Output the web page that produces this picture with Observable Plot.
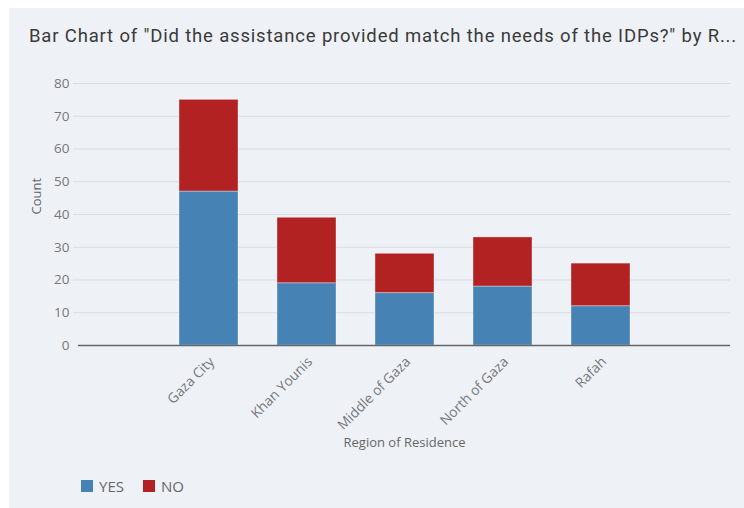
<!DOCTYPE html>
<html><head><meta charset="utf-8">
<script src="https://cdn.jsdelivr.net/npm/d3@7"></script>
<script src="https://cdn.jsdelivr.net/npm/@observablehq/plot@0.6"></script>
<style>
body{margin:0;background:#fff;font-family:"Open Sans",sans-serif;}
#card{position:absolute;left:9px;top:8px;width:735px;height:500px;background:#eef2f7;}
#title{position:absolute;left:29px;top:25px;font-size:18.5px;color:#3a3a3a;white-space:nowrap;font-family:Roboto,sans-serif;}
#chart{position:absolute;left:0;top:60px;}
#legend{position:absolute;left:81px;top:476px;font-size:15px;color:#666;display:flex;align-items:center;}
#legend .sw{display:inline-block;width:12px;height:12px;margin-right:6px;}
#legend .it{display:flex;align-items:center;margin-right:19px;}
</style>
</head><body>
<div id="card"></div>
<div id="title">Bar Chart of "Did the assistance provided match the needs of the IDPs?" by R...</div>
<div id="chart"></div>
<div id="legend"></div>
<script>
const regions = ["Gaza City", "Khan Younis", "Middle of Gaza", "North of Gaza", "Rafah"];
const yesCounts = [47, 19, 16, 18, 12];
const noCounts = [28, 20, 12, 15, 13];
const answers = ["YES", "NO"];
const colors = ["#4682b4", "#b22222"];
const yTicks = [0, 10, 20, 30, 40, 50, 60, 70, 80];

const rows = [];
regions.forEach((r, i) => {
  rows.push({region: r, answer: "YES", count: yesCounts[i]});
  rows.push({region: r, answer: "NO", count: noCounts[i]});
});

const chart = Plot.plot({
  width: 744, height: 400,
  marginTop: 23, marginBottom: 115, marginLeft: 78, marginRight: 14,
  style: {background: "transparent", fontFamily: "'Open Sans', sans-serif", fontSize: "13px", color: "#777"},
  x: {domain: regions, paddingInner: 0.4, paddingOuter: 1.0, label: null},
  y: {domain: [0, 80], ticks: yTicks, label: null},
  color: {domain: answers, range: colors},
  marks: [
    Plot.ruleY(yTicks.slice(1), {stroke: "#d9dde2", strokeWidth: 1, insetLeft: -5}),
    Plot.barY(rows, {x: "region", y: "count", fill: "answer", order: answers, stroke: "#ffffff", strokeOpacity: 0.35, strokeWidth: 1}),
    Plot.ruleY([0], {stroke: "#666", strokeWidth: 1.3}),
    Plot.axisY({ticks: yTicks, tickSize: 0, tickPadding: 9, fontSize: 13.5, fill: "#777", label: null}),
    Plot.axisX({tickSize: 0, tickRotate: -45, tickPadding: 12, dx: 3, dy: 2, fontSize: 13.8, fill: "#777", label: null}),
    Plot.text(["Count"], {frameAnchor: "left", dx: -42, rotate: -90, fontSize: 13, fill: "#666"}),
    Plot.text(["Region of Residence"], {frameAnchor: "bottom", dy: 101, fontSize: 13, fill: "#666"})
  ]
});
document.getElementById("chart").appendChild(chart);

// fit title to its measured width in the reference
const title = document.getElementById("title");
const targetW = 708;
const w0 = title.getBoundingClientRect().width;
const nChars = title.textContent.length;
title.style.letterSpacing = ((targetW - w0) / nChars) + "px";

const legend = document.getElementById("legend");
answers.forEach((a, i) => {
  const it = document.createElement("span");
  it.className = "it";
  const sw = document.createElement("span");
  sw.className = "sw";
  sw.style.background = colors[i];
  it.appendChild(sw);
  it.appendChild(document.createTextNode(a));
  legend.appendChild(it);
});
</script>
</body></html>
